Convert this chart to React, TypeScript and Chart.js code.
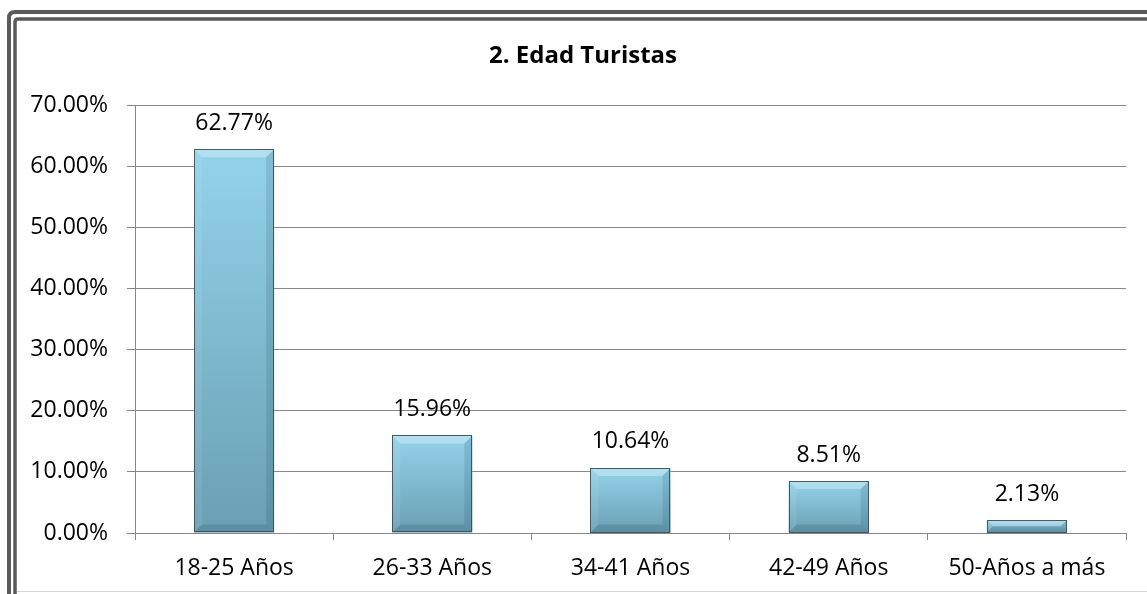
import React, { useEffect, useRef } from "react";
import { Chart, registerables } from "chart.js";

Chart.register(...registerables);

const categories = ["18-25 Años", "26-33 Años", "34-41 Años", "42-49 Años", "50-Años a más"];
const values = [62.77, 15.96, 10.64, 8.51, 2.13];
const yMin = 0;
const yMax = 70;
const yStep = 10;
const chartTitle = "2. Edad Turistas";

const FONT = '"Open Sans", "Noto Sans", sans-serif';
const W = 1147;
const H = 594;
const GRID = "#888888";

function roundRect(ctx: CanvasRenderingContext2D, x: number, y: number, w: number, h: number, r: number) {
  ctx.beginPath();
  ctx.moveTo(x + r, y);
  ctx.lineTo(x + w - r, y);
  ctx.quadraticCurveTo(x + w, y, x + w, y + r);
  ctx.lineTo(x + w, y + h - r);
  ctx.quadraticCurveTo(x + w, y + h, x + w - r, y + h);
  ctx.lineTo(x + r, y + h);
  ctx.quadraticCurveTo(x, y + h, x, y + h - r);
  ctx.lineTo(x, y + r);
  ctx.quadraticCurveTo(x, y, x + r, y);
  ctx.closePath();
}

const framePlugin = {
  id: "frame",
  beforeDraw(chart: any) {
    const ctx = chart.ctx as CanvasRenderingContext2D;
    ctx.save();
    ctx.fillStyle = "#ffffff";
    ctx.fillRect(0, 0, W, H);
    ctx.strokeStyle = "#5a5a5a";
    ctx.lineWidth = 4;
    roundRect(ctx, 9, 12, W + 30, H + 30, 6);
    ctx.stroke();
    ctx.lineWidth = 3.5;
    roundRect(ctx, 15, 19, W + 30, H + 30, 3);
    ctx.stroke();
    ctx.strokeStyle = "#d6d6d6";
    ctx.lineWidth = 1;
    ctx.beginPath();
    ctx.moveTo(17, 591.5);
    ctx.lineTo(W, 591.5);
    ctx.stroke();
    ctx.fillStyle = "#000";
    ctx.font = `bold 24px ${FONT}`;
    ctx.textAlign = "center";
    ctx.textBaseline = "middle";
    ctx.fillText(chartTitle, 583, 56);
    ctx.restore();
  },
};

const bevelPlugin = {
  id: "bevel",
  afterDatasetsDraw(chart: any) {
    const ctx = chart.ctx as CanvasRenderingContext2D;
    const meta = chart.getDatasetMeta(0);
    ctx.save();
    meta.data.forEach((bar: any, i: number) => {
      const { x, y, base, width } = bar.getProps(["x", "y", "base", "width"], true);
      const x0 = x - width / 2;
      const x1 = x + width / 2;
      const h = base - y;
      const b = Math.min(8, h / 2);
      ctx.fillStyle = "rgba(255,255,255,0.3)";
      ctx.beginPath();
      ctx.moveTo(x0, y);
      ctx.lineTo(x1, y);
      ctx.lineTo(x1 - b, y + b);
      ctx.lineTo(x0 + b, y + b);
      ctx.closePath();
      ctx.fill();
      ctx.fillStyle = "rgba(255,255,255,0.08)";
      ctx.beginPath();
      ctx.moveTo(x0, y);
      ctx.lineTo(x0 + b, y + b);
      ctx.lineTo(x0 + b, base - b);
      ctx.lineTo(x0, base);
      ctx.closePath();
      ctx.fill();
      ctx.fillStyle = "rgba(0,40,60,0.12)";
      ctx.beginPath();
      ctx.moveTo(x1, y);
      ctx.lineTo(x1 - b, y + b);
      ctx.lineTo(x1 - b, base - b);
      ctx.lineTo(x1, base);
      ctx.closePath();
      ctx.fill();
      ctx.fillStyle = "rgba(0,40,60,0.14)";
      ctx.beginPath();
      ctx.moveTo(x0, base);
      ctx.lineTo(x0 + b, base - b);
      ctx.lineTo(x1 - b, base - b);
      ctx.lineTo(x1, base);
      ctx.closePath();
      ctx.fill();
      ctx.strokeStyle = "rgba(60,75,85,0.9)";
      ctx.lineWidth = 1;
      ctx.strokeRect(Math.round(x0) + 0.5, Math.round(y) + 0.5, Math.round(width) - 1, Math.round(h) - 1);
      ctx.fillStyle = "#000";
      ctx.font = `23px ${FONT}`;
      ctx.textAlign = "center";
      ctx.textBaseline = "middle";
      ctx.fillText(values[i].toFixed(2) + "%", x, y - 26);
    });
    ctx.restore();
  },
};

export default function App() {
  const ref = useRef<HTMLCanvasElement | null>(null);

  useEffect(() => {
    if (!ref.current) return;
    const chart = new Chart(ref.current, {
      type: "bar",
      data: {
        labels: categories,
        datasets: [
          {
            data: values,
            backgroundColor: (c: any) => {
              const chartObj = c.chart;
              const scales = chartObj.scales;
              if (!scales || !scales.y || c.dataIndex == null) return "#80bdd3";
              const top = scales.y.getPixelForValue(values[c.dataIndex]);
              const bot = scales.y.getPixelForValue(0);
              if (!isFinite(top) || !isFinite(bot) || top === bot) return "#80bdd3";
              const g = chartObj.ctx.createLinearGradient(0, top, 0, bot);
              g.addColorStop(0, "#93d3ea");
              g.addColorStop(1, "#6a9fb4");
              return g;
            },
            borderWidth: 0,
            categoryPercentage: 1,
            barPercentage: 0.404,
          },
        ],
      },
      options: {
        animation: false,
        responsive: false,
        devicePixelRatio: 1,
        layout: { padding: { left: 0, right: 21, top: 105, bottom: 0 } },
        plugins: {
          legend: { display: false },
          title: { display: false },
          tooltip: { enabled: false },
        },
        scales: {
          x: {
            offset: true,
            grid: {
              offset: true,
              drawOnChartArea: false,
              drawTicks: true,
              tickLength: 7,
              color: GRID,
            },
            border: { display: true, color: GRID },
            ticks: {
              color: "#000",
              font: { family: FONT, size: 23 },
              padding: 15,
              maxRotation: 0,
              autoSkip: false,
            },
            afterFit: (s: any) => {
              s.height = 61;
            },
          },
          y: {
            min: yMin,
            max: yMax,
            grid: {
              color: GRID,
              drawTicks: true,
              tickLength: 8,
            },
            border: { display: true, color: GRID },
            ticks: {
              stepSize: yStep,
              color: "#000",
              font: { family: FONT, size: 23 },
              padding: 19,
              callback: (v: any) => Number(v).toFixed(2) + "%",
            },
            afterFit: (s: any) => {
              s.width = 135;
            },
          },
        },
      },
      plugins: [framePlugin, bevelPlugin],
    } as any);
    chart.update();
    return () => {
      chart.destroy();
    };
  }, []);

  return (
    <div style={{ position: "absolute", left: 0, top: 0, width: W, height: H, overflow: "hidden", background: "#fff" }}>
      <canvas ref={ref} width={W} height={H} style={{ display: "block", width: W, height: H }} />
    </div>
  );
}
